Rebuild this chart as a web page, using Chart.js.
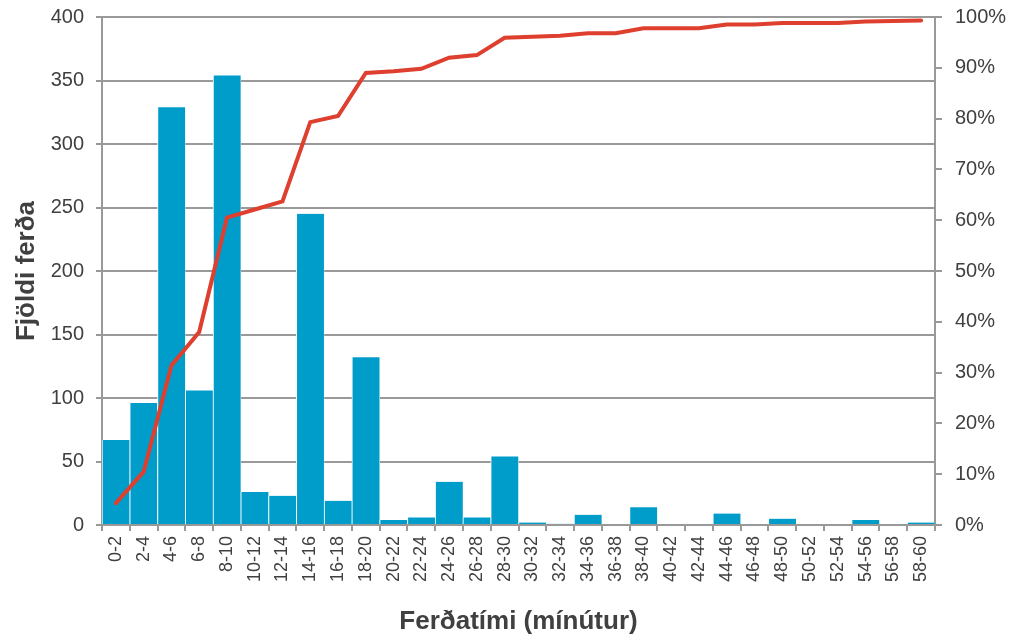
<!DOCTYPE html>
<html>
<head>
<meta charset="utf-8">
<style>
  html, body { margin: 0; padding: 0; background: #fff; }
  #wrap { width: 1019px; height: 638px; }
</style>
<script src="https://cdn.jsdelivr.net/npm/chart.js@4/dist/chart.umd.min.js"></script>
</head>
<body>
<div id="wrap"><canvas id="c" width="1019" height="638"></canvas></div>
<script>
// Travel-time bins (minutes)
const categories = ['0-2','2-4','4-6','6-8','8-10','10-12','12-14','14-16','16-18','18-20',
  '20-22','22-24','24-26','26-28','28-30','30-32','32-34','34-36','36-38','38-40',
  '40-42','42-44','44-46','46-48','48-50','50-52','52-54','54-56','56-58','58-60'];

// Number of trips in each bin
const tripCounts = [67, 96, 329, 106, 354, 26, 23, 245, 19, 132,
  4, 6, 34, 6, 54, 2, 1, 8, 0, 14,
  0, 0, 9, 0, 5, 0, 0, 4, 0, 2];

// Cumulative share of trips (%)
const cumulativePct = [4.3, 10.5, 31.4, 38.0, 60.5, 62.1, 63.7, 79.3, 80.5, 89.0,
  89.3, 89.8, 92.0, 92.5, 95.9, 96.1, 96.3, 96.8, 96.8, 97.8,
  97.8, 97.8, 98.5, 98.5, 98.8, 98.8, 98.8, 99.1, 99.2, 99.3];

// Axis ticks
const countTicks = [0, 50, 100, 150, 200, 250, 300, 350, 400];
const pctTicks = [0, 10, 20, 30, 40, 50, 60, 70, 80, 90, 100];

const axisGrey = '#999999';
const textGrey = '#404040';
const fontFamily = '"Liberation Sans", Arial, sans-serif';

// Fixed box sizes for the value axes; label overflow is covered by layout padding
const fixVertical = width => s => { s.width = width; s.paddingTop = 0; s.paddingBottom = 0; };

new Chart(document.getElementById('c'), {
  data: {
    labels: categories,
    datasets: [
      {
        type: 'line',
        data: cumulativePct,
        yAxisID: 'y1',
        borderColor: '#DE3F2E',
        borderWidth: 4,
        pointRadius: 0,
        tension: 0,
        borderCapStyle: 'round',
        order: 0
      },
      {
        type: 'bar',
        data: tripCounts,
        yAxisID: 'y',
        backgroundColor: '#009DCB',
        borderColor: '#ffffff',
        borderWidth: { left: 1, right: 0.5, top: 0, bottom: 0 },
        borderSkipped: false,
        barPercentage: 1,
        categoryPercentage: 1,
        order: 1
      }
    ]
  },
  options: {
    responsive: false,
    animation: false,
    devicePixelRatio: 1,
    layout: { padding: { top: 17, left: 0, right: 0, bottom: 0 } },
    plugins: { legend: { display: false }, tooltip: { enabled: false } },
    scales: {
      x: {
        type: 'category',
        offset: true,
        grid: {
          offset: true,
          drawOnChartArea: false,
          drawTicks: true,
          tickLength: 6,
          color: axisGrey,
          lineWidth: 2
        },
        border: { display: true, color: axisGrey, width: 2 },
        ticks: {
          autoSkip: false,
          maxRotation: 90,
          minRotation: 90,
          padding: 5,
          color: textGrey,
          font: { family: fontFamily, size: 18 }
        },
        title: {
          display: true,
          text: 'Ferðatími (mínútur)',
          color: textGrey,
          font: { family: fontFamily, size: 26, weight: 'bold' },
          padding: { top: 0, bottom: 1 }
        },
        afterFit: s => { s.height = 113; s.paddingLeft = 0; s.paddingRight = 0; }
      },
      y: {
        position: 'left',
        min: 0,
        max: 400,
        afterBuildTicks: s => { s.ticks = countTicks.map(v => ({ value: v })); },
        grid: {
          drawOnChartArea: true,
          drawTicks: true,
          tickLength: 6,
          color: axisGrey,
          lineWidth: 2
        },
        border: { display: true, color: axisGrey, width: 2 },
        ticks: {
          padding: 12,
          color: textGrey,
          font: { family: fontFamily, size: 20 }
        },
        title: {
          display: true,
          text: 'Fjöldi ferða',
          color: textGrey,
          font: { family: fontFamily, size: 26, weight: 'bold' },
          padding: { top: 11, bottom: 0 }
        },
        afterFit: fixVertical(102)
      },
      y1: {
        position: 'right',
        min: 0,
        max: 100,
        afterBuildTicks: s => { s.ticks = pctTicks.map(v => ({ value: v })); },
        grid: {
          drawOnChartArea: false,
          drawTicks: true,
          tickLength: 7,
          color: axisGrey,
          lineWidth: 2
        },
        border: { display: true, color: axisGrey, width: 2 },
        ticks: {
          padding: 13,
          color: textGrey,
          font: { family: fontFamily, size: 20 },
          callback: v => v + '%'
        },
        afterFit: fixVertical(84)
      }
    }
  }
});
</script>
</body>
</html>
